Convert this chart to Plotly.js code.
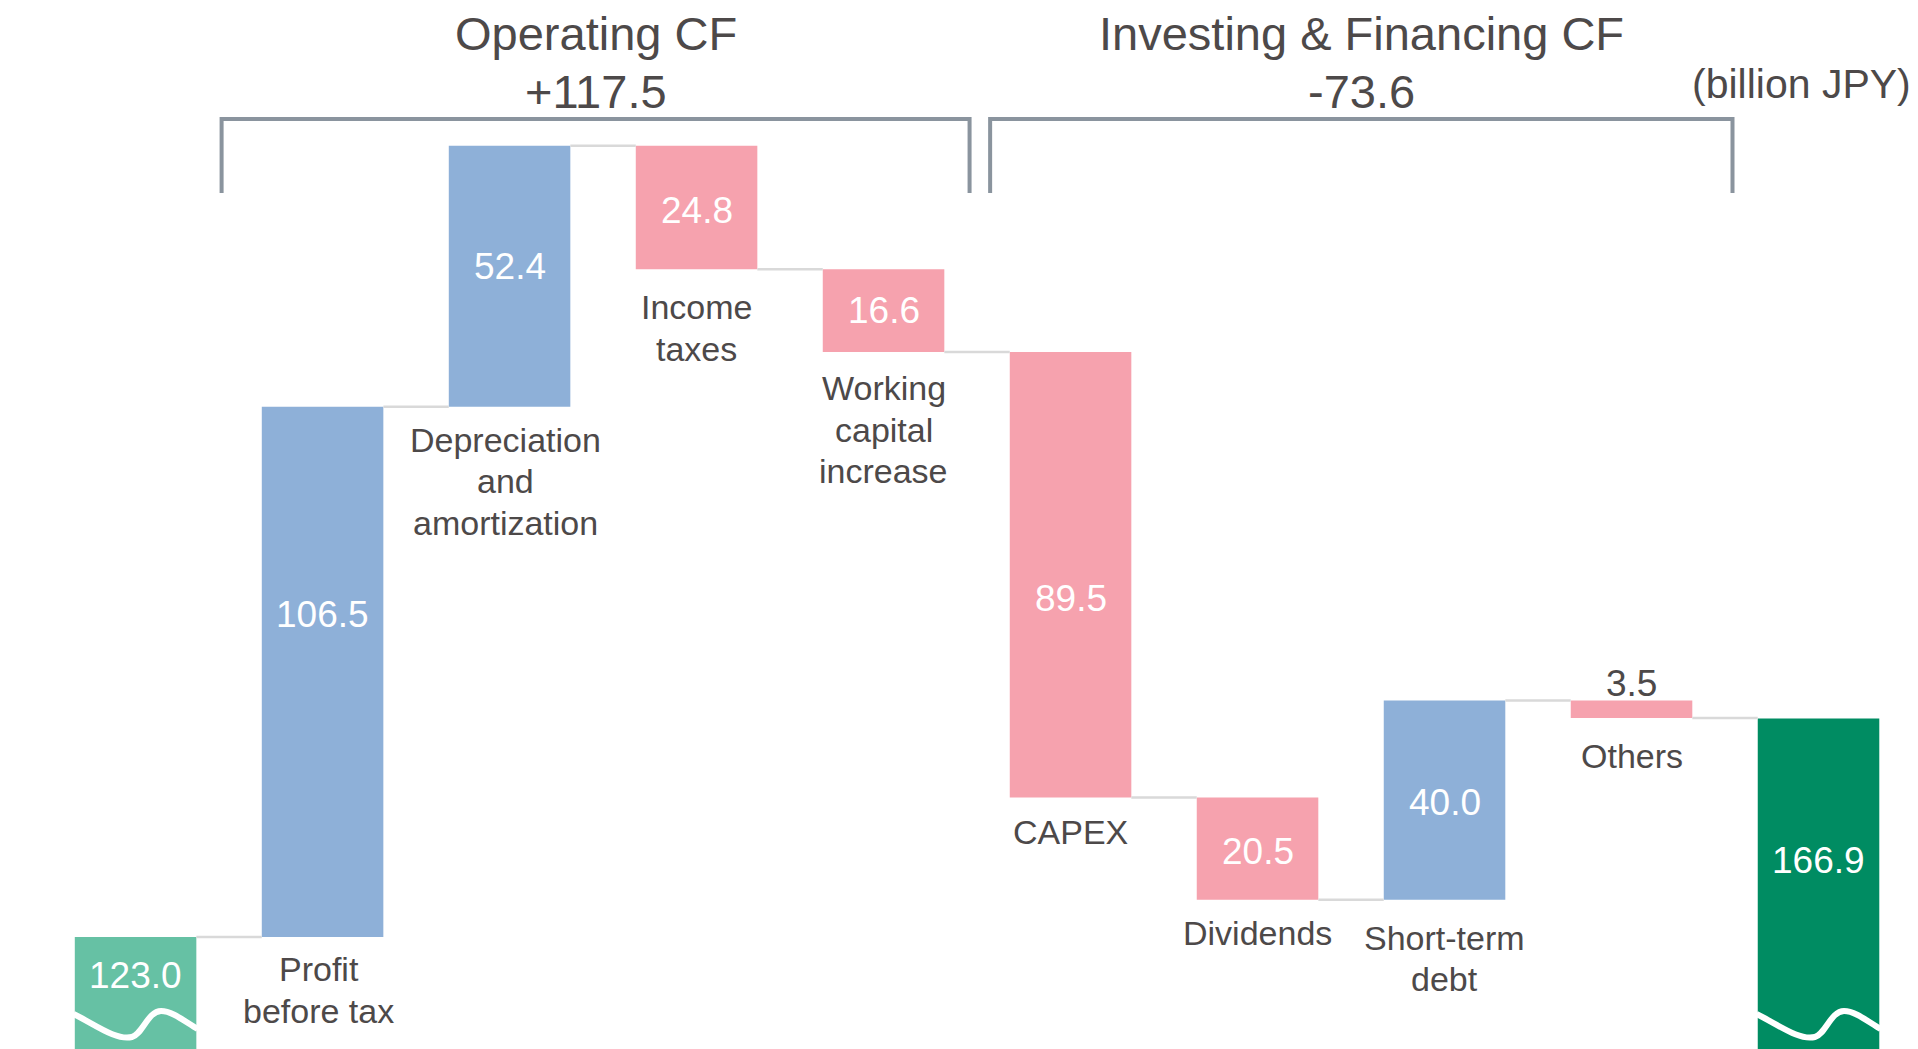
<!DOCTYPE html>
<html>
<head>
<meta charset="utf-8">
<script src="https://cdn.plot.ly/plotly-3.0.1.min.js"></script>
<style>
  html, body { margin: 0; padding: 0; background: #ffffff; }
  #chart { width: 1918px; height: 1049px; }
</style>
</head>
<body>
<div id="chart"></div>
<script>
// ---------------- DATA ----------------
const categories = ["Opening balance", "Profit before tax", "Depreciation and amortization", "Income taxes",
  "Working capital increase", "CAPEX", "Dividends", "Short-term debt", "Others", "Closing balance"];
const labels = ["", "Profit<br>before tax", "Depreciation<br>and<br>amortization", "Income<br>taxes",
  "Working<br>capital<br>increase", "CAPEX", "Dividends", "Short-term<br>debt", "Others", ""];
const measures = ["absolute", "relative", "relative", "relative", "relative",
  "relative", "relative", "relative", "relative", "total"];
const values = [123.0, 106.5, 52.4, -24.8, -16.6, -89.5, -20.5, 40.0, -3.5, 166.9];
const groupTitles = ["Operating CF<br>+117.5", "Investing & Financing CF<br>-73.6"];
const groupItems = [[1, 4], [5, 8]];
const unitLabel = "(billion JPY)";

// ---------------- STYLE ----------------
const FONT = "Arial, 'Liberation Sans', sans-serif";
const TXT = "#4d4949";
const C_START = "#66c1a4", C_END = "#008c62", C_UP = "#8eb0d8", C_DOWN = "#f6a2ae";
const BAR_W = 0.65;
const Y_RANGE = [100.5, 311.2];
const X_RANGE = [-0.725, 9.532];
const valueShift = [17, 57, 10, -3, 0, -24, -3, -2, -5, 23];  // px nudges of the value labels
const labelShift = [0, 32, 33, 38, 36, 34, 33, 38, 38, 0];      // px gap bar-bottom -> first label line centre
const labelDx = [0, -4, -4, 0, 0, 0, 0, 0, 0, 0];               // px horizontal nudges of category labels
const LABEL_LINE = 41.6;
const bracketPad = [[-0.04, -0.04], [0.07, 0.04]];           // bracket inset at each end (x units)

// ---------------- DERIVED (waterfall geometry) ----------------
const n = values.length;
const bases = [], levels = [];
let level = 0;
for (let i = 0; i < n; i++) {
  if (measures[i] === "relative") { bases.push(level); level += values[i]; }
  else { bases.push(0); level = values[i]; }
  levels.push(level);
}
const colors = values.map((v, i) => measures[i] === "absolute" ? C_START :
  measures[i] === "total" ? C_END : (v >= 0 ? C_UP : C_DOWN));
const xs = values.map((v, i) => i);

const bars = {
  type: "bar", x: xs, y: values, base: bases, width: BAR_W,
  marker: { color: colors, line: { width: 0 } },
  hovertext: categories, hoverinfo: "text", showlegend: false
};

const cx = [], cy = [];
for (let i = 0; i < n - 1; i++) {
  cx.push(i + BAR_W / 2, i + 1 - BAR_W / 2, null);
  cy.push(levels[i], levels[i], null);
}
const connectors = {
  type: "scatter", mode: "lines", x: cx, y: cy,
  line: { color: "#d9d9d9", width: 2.5 }, hoverinfo: "skip", showlegend: false
};

const annotations = [];
const shapes = [];
for (let i = 0; i < n; i++) {
  const lo = Math.min(bases[i], bases[i] + values[i]);
  const hi = Math.max(bases[i], bases[i] + values[i]);
  const vlo = Math.max(lo, Y_RANGE[0]), vhi = Math.min(hi, Y_RANGE[1]);
  const txt = Math.abs(values[i]).toFixed(1);
  if (hi - lo < 10) {
    annotations.push({ x: i, y: hi, xref: "x", yref: "y", text: txt, showarrow: false,
      yanchor: "bottom", yshift: valueShift[i], font: { family: FONT, size: 37, color: TXT } });
  } else {
    annotations.push({ x: i, y: (vlo + vhi) / 2, xref: "x", yref: "y", text: txt, showarrow: false,
      yanchor: "middle", yshift: valueShift[i], font: { family: FONT, size: 37, color: "#ffffff" } });
  }
  if (labels[i]) {
    labels[i].split("<br>").forEach((line, k) => {
      annotations.push({ x: i, y: lo, xref: "x", yref: "y", text: line, showarrow: false,
        yanchor: "middle", yshift: -(labelShift[i] + k * LABEL_LINE), xshift: labelDx[i],
        font: { family: FONT, size: 34, color: TXT } });
    });
  }
  if (measures[i] !== "relative") {
    // axis-break wave at the bottom of truncated bars
    const x0 = i - BAR_W / 2, w = BAR_W;
    const px = t => (x0 + t * w).toFixed(4);
    const py = p => (1 - p / 1049).toFixed(5);
    const path = `M ${px(-0.01)},${py(1014)} C ${px(0.16)},${py(1024)} ${px(0.34)},${py(1041)} ${px(0.47)},${py(1037)}` +
      ` C ${px(0.56)},${py(1034)} ${px(0.60)},${py(1011)} ${px(0.71)},${py(1011)}` +
      ` C ${px(0.80)},${py(1011)} ${px(0.90)},${py(1021)} ${px(1.01)},${py(1029)}`;
    shapes.push({ type: "path", xref: "x", yref: "paper", path: path,
      line: { color: "#ffffff", width: 6 }, layer: "above" });
  }
}

// group brackets + titles
const brTop = 1 - 119 / 1049, brBot = 1 - 193 / 1049;
const titleLineY = [34, 92];
groupItems.forEach((g, k) => {
  const x0 = g[0] - 0.5 + bracketPad[k][0];
  const x1 = g[1] + 0.5 + bracketPad[k][1];
  shapes.push({ type: "path", xref: "x", yref: "paper",
    path: `M ${x0},${brBot} L ${x0},${brTop} L ${x1},${brTop} L ${x1},${brBot}`,
    line: { color: "#8a949e", width: 4 } });
  groupTitles[k].split("<br>").forEach((line, j) => {
    annotations.push({ x: (x0 + x1) / 2, y: 1 - titleLineY[j] / 1049, xref: "x", yref: "paper",
      text: line, showarrow: false, yanchor: "middle",
      font: { family: FONT, size: 47, color: TXT } });
  });
});
annotations.push({ x: 1913 / 1918, y: 1 - 84 / 1049, xref: "paper", yref: "paper",
  text: unitLabel, showarrow: false, xanchor: "right", yanchor: "middle",
  font: { family: FONT, size: 41, color: TXT } });

const layout = {
  width: 1918, height: 1049,
  margin: { l: 0, r: 0, t: 0, b: 0, pad: 0 },
  paper_bgcolor: "#ffffff", plot_bgcolor: "#ffffff",
  showlegend: false,
  xaxis: { range: X_RANGE, visible: false, fixedrange: true },
  yaxis: { range: Y_RANGE, visible: false, fixedrange: true },
  annotations: annotations, shapes: shapes,
  font: { family: FONT, color: TXT }
};

Plotly.newPlot("chart", [bars, connectors], layout, { displayModeBar: false, staticPlot: true });
</script>
</body>
</html>
